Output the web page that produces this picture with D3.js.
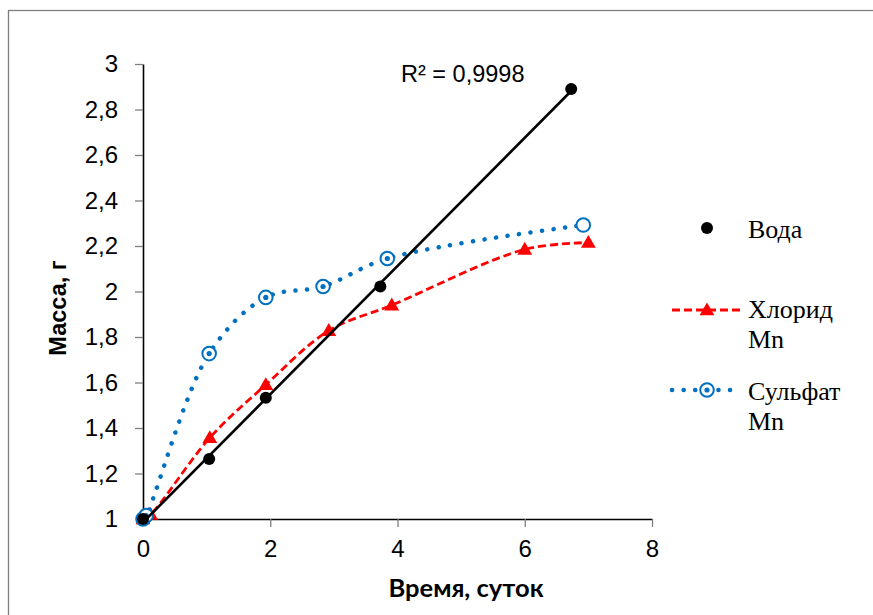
<!DOCTYPE html>
<html>
<head>
<meta charset="utf-8">
<script src="https://cdn.jsdelivr.net/npm/d3@7/dist/d3.min.js"></script>
<style>
  html, body { margin: 0; padding: 0; background: #fff; }
  svg { display: block; }
  .sans { font-family: "Liberation Sans", Arial, sans-serif; }
  .serif { font-family: "Liberation Serif", "DejaVu Serif", serif; }
  .cal { font-family: Lato, "Open Sans", sans-serif; font-weight: bold; }
</style>
</head>
<body>
<svg id="chart" width="873" height="615"></svg>
<script>
// Mass gain over time (days) for three media
const waterDays   = [0, 1.04, 1.93, 3.73, 6.73];
const waterMass   = [1.0, 1.264, 1.533, 2.022, 2.89];

const chlorideDays = [0, 0.12, 1.05, 1.93, 2.92, 3.91, 6.0, 7.0];
const chlorideMass = [1.0, 1.02, 1.357, 1.59, 1.828, 1.94, 2.185, 2.215];

const sulfateDays = [0, 0.05, 1.04, 1.93, 2.83, 3.84, 6.92];
const sulfateMass = [1.0, 1.015, 1.727, 1.974, 2.022, 2.145, 2.292];

const xTicks = [0, 2, 4, 6, 8];
const yTicks = [1, 1.2, 1.4, 1.6, 1.8, 2, 2.2, 2.4, 2.6, 2.8, 3];

const seriesNames = ["Вода", ["Хлорид", "Mn"], ["Сульфат", "Mn"]];
const xTitle = "Время, суток";
const yTitle = "Масса, г";

const svg = d3.select("#chart");
const W = 873, H = 615;

// chart frame (runs past right/bottom edges)
svg.append("rect")
  .attr("x", 8.5).attr("y", 10.5)
  .attr("width", W + 20).attr("height", H + 20)
  .attr("fill", "#fff").attr("stroke", "#7f7f7f").attr("stroke-width", 1.3);

const x = d3.scaleLinear().domain([0, 8]).range([143, 652]);
const y = d3.scaleLinear().domain([1, 3]).range([519, 64]);

const fmt = d => String(d3.format("~g")(d)).replace(".", ",");

// axes
const xAxis = svg.append("g")
  .attr("transform", `translate(0,${y(1)})`)
  .call(d3.axisBottom(x).tickValues(xTicks).tickSize(8).tickSizeOuter(0).tickPadding(13).tickFormat(fmt));
const yAxis = svg.append("g")
  .attr("transform", `translate(${x(0)},0)`)
  .call(d3.axisLeft(y).tickValues(yTicks).tickSize(8).tickSizeOuter(0).tickPadding(17).tickFormat(fmt));

[xAxis, yAxis].forEach(g => {
  g.attr("font-family", null).attr("font-size", null);
  g.select(".domain").attr("stroke", "#000").attr("stroke-width", 1.6);
  g.selectAll(".tick line").attr("stroke", "#7f7f7f").attr("stroke-width", 1.3);
  g.selectAll(".tick text")
    .attr("fill", "#000")
    .attr("class", "sans")
    .style("font-size", "24px");
});
xAxis.selectAll(".tick").filter(d => d === 0).select("line").remove();
yAxis.selectAll(".tick").filter(d => d === 1).select("line").remove();

// axis titles
svg.append("text")
  .attr("class", "cal")
  .attr("x", 466).attr("y", 597)
  .attr("text-anchor", "middle")
  .style("font-size", "25.5px")
  .text(xTitle);
svg.append("text")
  .attr("class", "sans")
  .attr("transform", "translate(66,308) rotate(-90)")
  .attr("text-anchor", "middle")
  .style("font-weight", "bold").style("font-size", "23.5px")
  .text(yTitle);

const RED = "#ff0000", BLUE = "#0070c0";

const chloride = chlorideDays.map((d, i) => [d, chlorideMass[i]]);
const sulfate = sulfateDays.map((d, i) => [d, sulfateMass[i]]);
const water = waterDays.map((d, i) => [d, waterMass[i]]);

const smooth = d3.line().x(d => x(d[0])).y(d => y(d[1])).curve(d3.curveCatmullRom.alpha(0.5));

// chloride: smoothed dashed line + triangles
svg.append("path").datum(chloride)
  .attr("d", smooth)
  .attr("fill", "none").attr("stroke", RED).attr("stroke-width", 2.8)
  .attr("stroke-dasharray", "8,4");

const tri = d3.symbol().type(d3.symbolTriangle).size(95);
svg.append("g").selectAll("path").data(chloride).join("path")
  .attr("d", tri)
  .attr("transform", d => `translate(${x(d[0])},${y(d[1]) + 1})`)
  .attr("fill", RED);

// sulfate: smoothed dotted line + ringed circles
svg.append("path").datum(sulfate)
  .attr("d", smooth)
  .attr("fill", "none").attr("stroke", BLUE).attr("stroke-width", 4.5)
  .attr("stroke-linecap", "round")
  .attr("stroke-dasharray", "0.1,11.5");

const sg = svg.append("g").selectAll("g").data(sulfate).join("g")
  .attr("transform", d => `translate(${x(d[0])},${y(d[1])})`);
sg.append("circle").attr("r", 6.8).attr("fill", "#fff").attr("stroke", BLUE).attr("stroke-width", 2);
sg.filter((d, i) => i < sulfate.length - 1)
  .append("circle").attr("r", 2.6).attr("fill", BLUE);

// water: linear trend line + points
const mx = d3.mean(water, d => d[0]), my = d3.mean(water, d => d[1]);
const slope = d3.sum(water, d => (d[0] - mx) * (d[1] - my)) / d3.sum(water, d => (d[0] - mx) ** 2);
const icpt = my - slope * mx;
const xs = d3.extent(water, d => d[0]);
svg.append("line")
  .attr("x1", x(xs[0])).attr("y1", y(icpt + slope * xs[0]))
  .attr("x2", x(xs[1])).attr("y2", y(icpt + slope * xs[1]))
  .attr("stroke", "#000").attr("stroke-width", 2.6);

svg.append("g").selectAll("circle").data(water).join("circle")
  .attr("cx", d => x(d[0])).attr("cy", d => y(d[1])).attr("r", 6)
  .attr("fill", "#000");

svg.append("text")
  .attr("class", "sans")
  .attr("x", 401).attr("y", 82)
  .style("font-size", "23.5px")
  .text("R² = 0,9998");

// legend
const lg = svg.append("g").attr("class", "serif").style("font-size", "26px");

lg.append("circle").attr("cx", 707).attr("cy", 228).attr("r", 6).attr("fill", "#000");
lg.append("text").attr("x", 748).attr("y", 238).text(seriesNames[0]);

lg.append("line").attr("x1", 672).attr("x2", 742).attr("y1", 310).attr("y2", 310)
  .attr("stroke", RED).attr("stroke-width", 2.8).attr("stroke-dasharray", "8,4");
lg.append("path").attr("d", tri).attr("transform", "translate(707,311)").attr("fill", RED);
lg.append("text").attr("x", 748).attr("y", 318).text(seriesNames[1][0]);
lg.append("text").attr("x", 748).attr("y", 348).text(seriesNames[1][1]);

lg.append("line").attr("x1", 672).attr("x2", 735).attr("y1", 390).attr("y2", 390)
  .attr("stroke", BLUE).attr("stroke-width", 4.5).attr("stroke-linecap", "round")
  .attr("stroke-dasharray", "0.1,11.5");
lg.append("circle").attr("cx", 707).attr("cy", 390).attr("r", 6.8)
  .attr("fill", "#fff").attr("stroke", BLUE).attr("stroke-width", 2);
lg.append("circle").attr("cx", 707).attr("cy", 390).attr("r", 2.6).attr("fill", BLUE);
lg.append("text").attr("x", 748).attr("y", 400).text(seriesNames[2][0]);
lg.append("text").attr("x", 748).attr("y", 430).text(seriesNames[2][1]);
</script>
</body>
</html>
